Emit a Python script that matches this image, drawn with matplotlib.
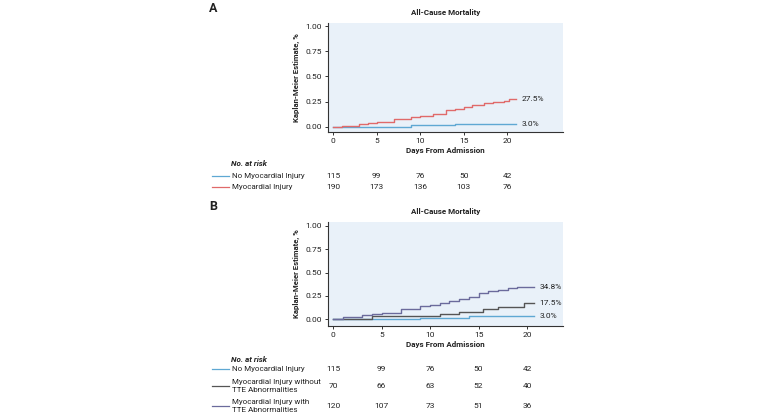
import matplotlib
matplotlib.use("Agg")
import matplotlib.pyplot as plt
from matplotlib.lines import Line2D
from matplotlib.transforms import blended_transform_factory

plt.rcParams['font.family'] = ['Roboto', 'DejaVu Sans']

# ---------------- Data ----------------
# Panel A
a_none_t = [0, 9, 14, 21]
a_none_v = [0.0, 0.015, 0.03, 0.03]
a_inj_t = [0, 1, 3, 4, 5, 7, 9, 10, 11.5, 13, 14, 15, 16, 17.3, 18.4, 19.6, 20.2, 21]
a_inj_v = [0.0, 0.01, 0.025, 0.035, 0.045, 0.075, 0.095, 0.11, 0.125, 0.165, 0.18,
           0.195, 0.22, 0.235, 0.25, 0.262, 0.275, 0.275]
a_labels = ["No Myocardial Injury", "Myocardial Injury"]
a_end = ["3.0%", "27.5%"]
a_risk = [[115, 99, 76, 50, 42], [190, 173, 136, 103, 76]]

# Panel B
b_none_t = [0, 9, 14, 20.7]
b_none_v = [0.0, 0.015, 0.03, 0.03]
b_wo_t = [0, 4, 11, 13, 15.5, 17, 19.7, 20.7]
b_wo_v = [0.0, 0.03, 0.05, 0.08, 0.11, 0.13, 0.175, 0.175]
b_w_t = [0, 1, 3, 4, 5, 6, 7, 9, 10, 11, 12, 13, 14, 15, 16, 17, 18, 19, 20.7]
b_w_v = [0.0, 0.02, 0.045, 0.055, 0.065, 0.07, 0.11, 0.14, 0.155, 0.17, 0.19, 0.215,
         0.24, 0.28, 0.30, 0.315, 0.33, 0.348, 0.348]
b_labels = ["No Myocardial Injury", "Myocardial Injury without\nTTE Abnormalities",
            "Myocardial Injury with\nTTE Abnormalities"]
b_end = ["3.0%", "17.5%", "34.8%"]
b_risk = [[115, 99, 76, 50, 42], [70, 66, 63, 52, 40], [120, 107, 73, 51, 36]]

risk_days = [0, 5, 10, 15, 20]
yticks = [0.0, 0.25, 0.5, 0.75, 1.0]
ytick_labels = ["0.00", "0.25", "0.50", "0.75", "1.00"]

# ---------------- Style ----------------
C_BLUE = "#5fa8d3"
C_RED = "#e06a6a"
C_GRAY = "#555555"
C_PURP = "#6b6b9c"
BG = "#e9f1f9"
TXT = "#222222"

W, H = 770, 420
fig = plt.figure(figsize=(W / 100, H / 100), dpi=100)


def fx(px):
    return px / W


def fy(py):
    return 1 - py / H


def setup_axes(rect, xlim, ylim):
    ax = fig.add_axes(rect)
    ax.set_facecolor(BG)
    ax.set_xlim(*xlim)
    ax.set_ylim(*ylim)
    for s in ["top", "right"]:
        ax.spines[s].set_visible(False)
    for s in ["left", "bottom"]:
        ax.spines[s].set_color("#333333")
        ax.spines[s].set_linewidth(0.8)
    ax.set_xticks(risk_days)
    ax.set_yticks(yticks)
    ax.set_yticklabels(ytick_labels)
    ax.tick_params(labelsize=6, length=2.5, width=0.7, colors="#333333", pad=2,
                   labelcolor=TXT)
    ax.set_title("All-Cause Mortality", fontsize=5.8, fontweight="bold", pad=6, color=TXT)
    ax.set_xlabel("Days From Admission", fontsize=5.8, fontweight="bold", labelpad=2, color=TXT)
    ax.set_ylabel("Kaplan-Meier Estimate, %", fontsize=5.6, fontweight="bold", labelpad=4, color=TXT)
    return ax


# Panel A axes
axA = setup_axes([fx(328), fy(132), fx(563) - fx(328), fy(23) - fy(132)],
                 (-0.57, 26.4), (-0.05, 1.03))
for t, v, c, lab in [(a_none_t, a_none_v, C_BLUE, a_end[0]), (a_inj_t, a_inj_v, C_RED, a_end[1])]:
    axA.step(t, v, where="post", color=c, lw=1.0)
    axA.text(t[-1] + 0.6, v[-1], lab, fontsize=6, va="center", ha="left", color=TXT)

# Panel B axes
axB = setup_axes([fx(328), fy(326), fx(563) - fx(328), fy(222) - fy(326)],
                 (-0.52, 23.7), (-0.075, 1.043))
for t, v, c, lab in [(b_none_t, b_none_v, C_BLUE, b_end[0]), (b_wo_t, b_wo_v, C_GRAY, b_end[1]),
                     (b_w_t, b_w_v, C_PURP, b_end[2])]:
    axB.step(t, v, where="post", color=c, lw=1.0)
    axB.text(t[-1] + 0.6, v[-1], lab, fontsize=6, va="center", ha="left", color=TXT)

# Panel letters
fig.text(fx(209), fy(8), "A", fontsize=9, fontweight="bold", va="center", ha="left", color=TXT)
fig.text(fx(209), fy(207), "B", fontsize=9, fontweight="bold", va="center", ha="left", color=TXT)


def risk_table(ax, header_y, rows_y, labels, colors, risks):
    tr = blended_transform_factory(ax.transData, fig.transFigure)
    fig.text(fx(231), fy(header_y), "No. at risk", fontsize=5.8, fontweight="bold",
             style="italic", va="center", ha="left", color=TXT)
    for y, lab, c, r in zip(rows_y, labels, colors, risks):
        fig.add_artist(Line2D([fx(212), fx(229)], [fy(y), fy(y)], color=c, lw=0.9,
                              transform=fig.transFigure))
        fig.text(fx(232), fy(y), lab, fontsize=5.8, va="center", ha="left", color=TXT,
                 linespacing=1.35)
        for d, n in zip(risk_days, r):
            fig.text(d, fy(y), str(n), fontsize=6, va="center", ha="center",
                     color=TXT, transform=tr)


risk_table(axA, 163, [176, 187], a_labels, [C_BLUE, C_RED], a_risk)
risk_table(axB, 359, [369, 386, 406], b_labels, [C_BLUE, C_GRAY, C_PURP], b_risk)

fig.savefig("out.png", dpi=100)
